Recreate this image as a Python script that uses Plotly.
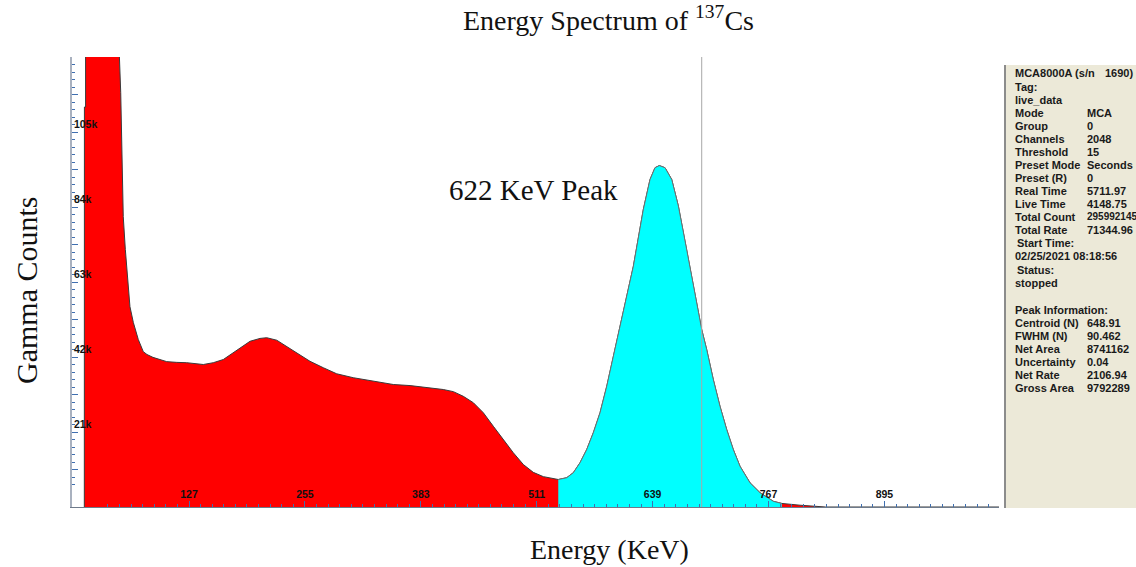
import plotly.graph_objects as go

# ---------------- data ----------------
ENERGY_KEV = [11.4, 11.5, 12.8, 12.9, 49.0, 50.0, 51.6, 52.7, 54.4, 56.7, 59.3, 60.4, 61.8,
              65.5, 71.0, 76.5, 80.6, 87.2, 102.4, 113.4, 124.5, 142.8, 153.8, 164.9, 175.9,
              185.2, 194.4, 205.4, 212.8, 223.9, 234.9, 245.9, 260.6, 275.3, 290.1, 308.4,
              326.9, 334.3, 352.6, 371.1, 389.5, 407.8, 418.9, 429.9, 441.0, 452.0, 463.1,
              474.1, 485.1, 496.2, 507.2, 518.3, 529.3, 534.8, 544.1, 551.4, 558.8, 566.2,
              573.5, 580.9, 588.3, 595.6, 601.1, 609.0, 617.7, 628.7, 636.1, 641.6, 646.4,
              652.7, 660.1, 667.4, 676.6, 685.8, 693.2, 698.7, 706.0, 713.4, 720.8, 728.1,
              735.5, 746.5, 757.6, 772.3, 781.6, 801.8, 823.9, 830.0, 1021.5]
COUNTS = [0, 112000, 112000, 300000, 300000, 127000, 116000, 100000, 81300, 72100, 62900, 59000, 56100,
          51700, 46900, 43500, 42700, 41900, 40700, 40500, 40400, 39900, 40400, 41300, 43200,
          45000, 46400, 47200, 47400, 46700, 45000, 43200, 40800, 39000, 37300, 36200,
          35400, 34900, 34300, 34000, 33400, 32900, 32300, 31000, 29200, 26400, 22600,
          18900, 15200, 11900, 9700, 8500, 7900, 7700, 8200, 9600, 12400, 16100,
          20800, 26400, 33800, 42200, 48800, 57500, 67400, 83300, 91700, 95000, 95600,
          95000, 91700, 84300, 72100, 60000, 49700, 44100, 35700, 28200, 21700, 16100,
          11400, 6800, 4000, 1600, 1000, 500, 200, 0, 0]

ROI_START_KEV = 534.8
ROI_END_KEV = 781.6
CURSOR_KEV = 693.2

X_TICK_VALS = [127, 255, 383, 511, 639, 767, 895]
X_TICK_TEXT = ["127", "255", "383", "511", "639", "767", "895"]
Y_TICK_VALS = [0, 10500, 21000, 31500, 42000, 52500, 63000, 73500, 84000, 94500, 105000, 115500]
Y_TICK_TEXT = ["", "", "21k", "", "42k", "", "63k", "", "84k", "", "105k", ""]

PANEL_LABELS = ["MCA8000A (s/n", "Tag:", "live_data", "Mode", "Group", "Channels", "Threshold",
                "Preset Mode", "Preset (R)", "Real Time", "Live Time", "Total Count", "Total Rate",
                "Start Time:", "02/25/2021 08:18:56", "Status:", "stopped", "",
                "Peak Information:", "Centroid (N)", "FWHM (N)", "Net Area", "Uncertainty",
                "Net Rate", "Gross Area"]
PANEL_VALUES = ["1690)", "", "", "MCA", "0", "2048", "15", "Seconds", "0", "5711.97", "4148.75",
                "295992145", "71344.96", "", "", "", "", "", "", "648.91", "90.462", "8741162",
                "0.04", "2106.94", "9792289"]

# ---------------- layout helpers ----------------
PLOT_L, PLOT_R, PLOT_T, PLOT_B = 72, 999, 57, 507


def paper(xpx, ypx):
    return ((xpx - PLOT_L) / (PLOT_R - PLOT_L), (PLOT_B - ypx) / (PLOT_B - PLOT_T))


roi_x = [x for x in ENERGY_KEV if ROI_START_KEV <= x <= ROI_END_KEV]
roi_y = [c for x, c in zip(ENERGY_KEV, COUNTS) if ROI_START_KEV <= x <= ROI_END_KEV]

fig = go.Figure()
fig.add_trace(go.Scatter(x=ENERGY_KEV, y=COUNTS, mode="lines", fill="tozeroy",
                         fillcolor="#FF0000", line=dict(color="#3a3a3a", width=1),
                         showlegend=False, hoverinfo="skip"))
fig.add_trace(go.Scatter(x=roi_x, y=roi_y, mode="lines", fill="tozeroy",
                         fillcolor="#00FFFF", line=dict(color="#707070", width=1),
                         showlegend=False, hoverinfo="skip"))

fig.add_shape(type="line", xref="x", yref="paper", x0=CURSOR_KEV, x1=CURSOR_KEV, y0=0, y1=1,
              line=dict(color="#a8a8a8", width=1), layer="above")

# right-hand information panel
p0 = paper(1005, 508)
p1 = paper(1140, 65)
fig.add_shape(type="rect", xref="paper", yref="paper", x0=p0[0], x1=p1[0], y0=p0[1], y1=p1[1],
              fillcolor="#ECE9D8", line=dict(width=0), layer="below")
fig.add_shape(type="line", xref="paper", yref="paper", x0=p0[0], x1=p0[0], y0=p0[1], y1=p1[1],
              line=dict(color="#8c8c8c", width=2))

panel_font = dict(family="Liberation Sans, Arial", size=11, color="#1a1a1a", weight="bold")
line_y = [73, 86.5, 99.5, 113, 126, 139, 152, 165, 178, 191, 204, 217, 230, 243, 256, 270, 283,
          296, 310, 323, 336, 349, 362, 375, 388]
for i, (lab, val) in enumerate(zip(PANEL_LABELS, PANEL_VALUES)):
    y = line_y[i]
    if lab:
        xl = 1015 if lab in ("Start Time:", "Status:") else 1013
        px_, py_ = paper(xl, y)
        fig.add_annotation(x=px_, y=py_, xref="paper", yref="paper", text=lab, showarrow=False,
                           xanchor="left", yanchor="middle", font=panel_font)
    if val:
        xv = 1103 if i == 0 else 1085
        px_, py_ = paper(xv, y)
        f = dict(panel_font)
        if len(val) > 8:
            f["size"] = 10
        fig.add_annotation(x=px_, y=py_, xref="paper", yref="paper", text=val, showarrow=False,
                           xanchor="left", yanchor="middle", font=f)

serif = "Liberation Serif, Times New Roman, serif"
tx, ty = paper(608, 18)
fig.add_annotation(x=tx, y=ty, xref="paper", yref="paper",
                   text="Energy Spectrum of <sup>137</sup>Cs", showarrow=False,
                   xanchor="center", yanchor="middle", font=dict(family=serif, size=28, color="#111"))
gx, gy = paper(26, 290)
fig.add_annotation(x=gx, y=gy, xref="paper", yref="paper", text="Gamma Counts", textangle=-90,
                   showarrow=False, xanchor="center", yanchor="middle",
                   font=dict(family=serif, size=30, color="#111"))
ex, ey = paper(609, 549)
fig.add_annotation(x=ex, y=ey, xref="paper", yref="paper", text="Energy (KeV)", showarrow=False,
                   xanchor="center", yanchor="middle", font=dict(family=serif, size=28, color="#111"))
kx, ky = paper(533, 190)
fig.add_annotation(x=kx, y=ky, xref="paper", yref="paper", text="622 KeV Peak", showarrow=False,
                   xanchor="center", yanchor="middle", font=dict(family=serif, size=29, color="#111"))

tick_font = dict(family="Liberation Sans, Arial", size=10.5, color="#111", weight="bold")
fig.update_xaxes(range=[-2.2, 1021.5], showgrid=False, zeroline=False,
                 showline=True, linecolor="#6e7a8a", linewidth=1,
                 ticks="inside", ticklen=6, tickcolor="#3f6fb0", tickwidth=1,
                 tickvals=X_TICK_VALS, ticktext=X_TICK_TEXT, ticklabelposition="inside",
                 tickfont=tick_font,
                 minor=dict(ticks="inside", tick0=127, dtick=12.8, ticklen=3,
                            tickcolor="#3f6fb0", showgrid=False))
fig.update_yaxes(range=[0, 126000], showgrid=False, zeroline=False,
                 showline=True, linecolor="#a9b1bf", linewidth=2,
                 ticks="inside", ticklen=6, tickcolor="#3f6fb0", tickwidth=1,
                 tickvals=Y_TICK_VALS, ticktext=Y_TICK_TEXT, ticklabelposition="inside top",
                 tickfont=tick_font,
                 minor=dict(ticks="inside", dtick=2100, ticklen=3,
                            tickcolor="#3f6fb0", showgrid=False))

fig.update_layout(width=1136, height=567, autosize=False,
                  margin=dict(l=PLOT_L, r=1136 - PLOT_R, t=PLOT_T, b=567 - PLOT_B),
                  paper_bgcolor="white", plot_bgcolor="white", showlegend=False)

fig.write_html("out.html", config={"displayModeBar": False})
